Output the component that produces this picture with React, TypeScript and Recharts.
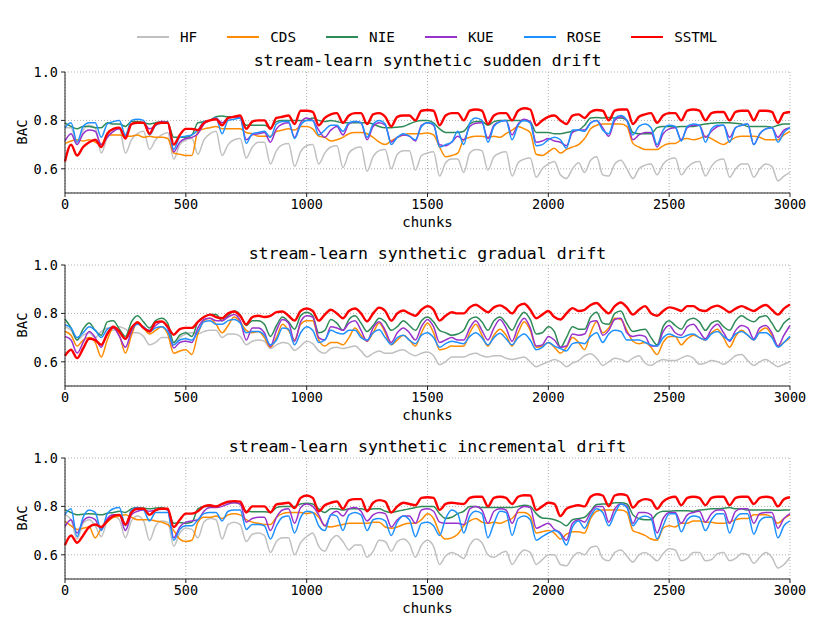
import { LineChart, Line, XAxis, YAxis, CartesianGrid } from 'recharts'

// chunks are sampled every 25 along 0..3000
const CHUNK_STEP = 25
const X_TICKS = [0, 500, 1000, 1500, 2000, 2500, 3000]
const Y_TICKS = [0.6, 0.8, 1.0]
const METHODS = ['HF', 'CDS', 'NIE', 'KUE', 'ROSE', 'SSTML']

const COLORS: Record<string, string> = {
  HF: '#c0c0c0',
  CDS: '#ff8c00',
  NIE: '#2e8b57',
  KUE: '#9932cc',
  ROSE: '#1e90ff',
  SSTML: '#ff0000',
}

// --- sudden drift ---
const SUDDEN_HF = [
  0.77, 0.77, 0.70, 0.76, 0.78, 0.77, 0.665, 0.73, 0.755, 0.765,
  0.665, 0.72, 0.745, 0.755, 0.68, 0.72, 0.74, 0.75, 0.64, 0.70,
  0.72, 0.725, 0.66, 0.72, 0.745, 0.755, 0.655, 0.70, 0.72, 0.725,
  0.645, 0.69, 0.71, 0.71, 0.62, 0.675, 0.70, 0.705, 0.61, 0.67,
  0.695,
  0.70, 0.62, 0.665, 0.69, 0.695, 0.605, 0.665, 0.685, 0.69, 0.59,
  0.65, 0.675, 0.68, 0.60, 0.66, 0.675, 0.675, 0.595, 0.655, 0.665,
  0.67, 0.57, 0.625, 0.64, 0.64, 0.585, 0.665, 0.68, 0.675, 0.595,
  0.65, 0.665, 0.67, 0.57, 0.625, 0.64, 0.645, 0.565, 0.60, 0.62,
  0.63, 0.575, 0.56, 0.60, 0.625, 0.585, 0.635, 0.65, 0.575, 0.57,
  0.62, 0.635, 0.60, 0.56, 0.60, 0.615, 0.62, 0.575, 0.62, 0.64,
  0.645, 0.575, 0.605, 0.625, 0.63, 0.57, 0.61, 0.635, 0.64, 0.565,
  0.60, 0.62, 0.62, 0.565, 0.60, 0.62, 0.61, 0.55, 0.57, 0.585,
]
const SUDDEN_CDS = [
  0.705, 0.715, 0.72, 0.715, 0.72, 0.71, 0.70, 0.74, 0.74, 0.74,
  0.735, 0.735, 0.74, 0.73, 0.735, 0.73, 0.73, 0.725, 0.665, 0.66,
  0.655, 0.655, 0.755, 0.765, 0.77, 0.775, 0.765, 0.765, 0.765, 0.765,
  0.75, 0.745, 0.735, 0.735, 0.735, 0.755, 0.76, 0.765, 0.76, 0.775,
  0.775,
  0.765, 0.735, 0.73, 0.715, 0.72, 0.73, 0.745, 0.75, 0.75, 0.745,
  0.73, 0.71, 0.70, 0.715, 0.73, 0.74, 0.745, 0.745, 0.745, 0.748,
  0.74, 0.69, 0.65, 0.655, 0.665, 0.72, 0.73, 0.735, 0.735, 0.73,
  0.735, 0.73, 0.745, 0.76, 0.775, 0.765, 0.75, 0.66, 0.655, 0.67,
  0.685, 0.665, 0.68, 0.69, 0.70, 0.725, 0.765, 0.78, 0.785, 0.785,
  0.785, 0.785, 0.775, 0.705, 0.69, 0.68, 0.68, 0.68, 0.695, 0.705,
  0.705, 0.72, 0.725, 0.72, 0.725, 0.735, 0.725, 0.71, 0.70, 0.715,
  0.73, 0.735, 0.735, 0.735, 0.73, 0.72, 0.72, 0.72, 0.74, 0.755,
]
const SUDDEN_NIE = [
  0.79, 0.775, 0.765, 0.775, 0.775, 0.77, 0.77, 0.79, 0.785, 0.785,
  0.775, 0.795, 0.795, 0.79, 0.785, 0.79, 0.795, 0.79, 0.73, 0.73,
  0.73, 0.74, 0.79, 0.795, 0.80, 0.815, 0.818, 0.815, 0.815, 0.81,
  0.78, 0.78, 0.78, 0.78, 0.77, 0.795, 0.80, 0.80, 0.80, 0.80,
  0.80,
  0.81, 0.80, 0.795, 0.80, 0.795, 0.79, 0.79, 0.79, 0.79, 0.79,
  0.785, 0.775, 0.77, 0.77, 0.772, 0.775, 0.785, 0.795, 0.80, 0.80,
  0.79, 0.765, 0.75, 0.75, 0.75, 0.755, 0.785, 0.795, 0.795, 0.78,
  0.795, 0.80, 0.80, 0.80, 0.80, 0.80, 0.795, 0.75, 0.75, 0.75,
  0.745, 0.745, 0.75, 0.755, 0.76, 0.78, 0.81, 0.812, 0.81, 0.812,
  0.81, 0.81, 0.80, 0.75, 0.745, 0.745, 0.745, 0.77, 0.775, 0.775,
  0.772, 0.775, 0.775, 0.775, 0.78, 0.785, 0.788, 0.79, 0.79, 0.79,
  0.788, 0.785, 0.775, 0.775, 0.775, 0.775, 0.772, 0.78, 0.785, 0.785,
]
const SUDDEN_KUE = [
  0.715, 0.745, 0.70, 0.745, 0.76, 0.755, 0.70, 0.73, 0.755, 0.765,
  0.735, 0.785, 0.79, 0.79, 0.765, 0.78, 0.795, 0.79, 0.67, 0.71,
  0.725, 0.73, 0.745, 0.785, 0.80, 0.81, 0.79, 0.81, 0.815, 0.81,
  0.72, 0.74, 0.745, 0.75, 0.71, 0.765, 0.785, 0.79, 0.73, 0.79,
  0.81,
  0.80, 0.76, 0.73, 0.76, 0.775, 0.74, 0.785, 0.795, 0.79, 0.72,
  0.775, 0.79, 0.78, 0.71, 0.73, 0.74, 0.735, 0.715, 0.78, 0.79,
  0.78, 0.70, 0.695, 0.71, 0.735, 0.72, 0.775, 0.788, 0.79, 0.725,
  0.78, 0.795, 0.80, 0.74, 0.785, 0.805, 0.795, 0.71, 0.715, 0.725,
  0.715, 0.71, 0.695, 0.75, 0.76, 0.76, 0.79, 0.80, 0.77, 0.735,
  0.80, 0.815, 0.80, 0.72, 0.74, 0.75, 0.75, 0.69, 0.745, 0.765,
  0.77, 0.72, 0.77, 0.78, 0.78, 0.73, 0.755, 0.775, 0.78, 0.73,
  0.77, 0.78, 0.785, 0.70, 0.745, 0.765, 0.77, 0.73, 0.76, 0.77,
]
const SUDDEN_ROSE = [
  0.77, 0.79, 0.71, 0.775, 0.79, 0.79, 0.73, 0.785, 0.795, 0.80,
  0.74, 0.80, 0.805, 0.80, 0.74, 0.78, 0.79, 0.795, 0.68, 0.73,
  0.735, 0.74, 0.76, 0.795, 0.80, 0.81, 0.745, 0.80, 0.805, 0.81,
  0.705, 0.745, 0.75, 0.755, 0.73, 0.785, 0.795, 0.795, 0.725, 0.78,
  0.80,
  0.80, 0.74, 0.76, 0.78, 0.78, 0.755, 0.79, 0.795, 0.79, 0.73,
  0.785, 0.80, 0.785, 0.70, 0.73, 0.745, 0.735, 0.72, 0.775, 0.79,
  0.785, 0.69, 0.70, 0.71, 0.755, 0.70, 0.79, 0.81, 0.80, 0.71,
  0.775, 0.795, 0.80, 0.72, 0.78, 0.80, 0.79, 0.695, 0.70, 0.72,
  0.73, 0.72, 0.685, 0.76, 0.76, 0.755, 0.79, 0.80, 0.76, 0.745,
  0.81, 0.82, 0.80, 0.74, 0.775, 0.785, 0.77, 0.70, 0.76, 0.78,
  0.775, 0.715, 0.775, 0.785, 0.78, 0.71, 0.765, 0.78, 0.78, 0.71,
  0.77, 0.78, 0.785, 0.70, 0.745, 0.765, 0.77, 0.71, 0.75, 0.77,
]
const SUDDEN_SSTML = [
  0.63, 0.70, 0.655, 0.69, 0.71, 0.72, 0.69, 0.745, 0.765, 0.77,
  0.725, 0.785, 0.79, 0.79, 0.745, 0.785, 0.79, 0.79, 0.70, 0.74,
  0.765, 0.765, 0.76, 0.79, 0.80, 0.805, 0.78, 0.81, 0.815, 0.82,
  0.765, 0.795, 0.80, 0.80, 0.765, 0.81, 0.815, 0.82, 0.785, 0.84,
  0.84,
  0.835, 0.78, 0.81, 0.825, 0.83, 0.79, 0.82, 0.83, 0.83, 0.785,
  0.825, 0.83, 0.815, 0.775, 0.815, 0.82, 0.82, 0.80, 0.84, 0.843,
  0.84, 0.78, 0.82, 0.83, 0.83, 0.80, 0.84, 0.845, 0.84, 0.785,
  0.82, 0.83, 0.83, 0.80, 0.84, 0.85, 0.845, 0.78, 0.80, 0.815,
  0.82, 0.80, 0.785, 0.82, 0.825, 0.81, 0.835, 0.843, 0.84, 0.80,
  0.84, 0.845, 0.845, 0.785, 0.815, 0.825, 0.83, 0.79, 0.82, 0.83,
  0.83, 0.80, 0.84, 0.845, 0.84, 0.80, 0.83, 0.835, 0.835, 0.80,
  0.835, 0.84, 0.84, 0.80, 0.84, 0.84, 0.835, 0.79, 0.83, 0.835,
]

// --- gradual drift ---
const GRADUAL_HF = [
  0.745, 0.73, 0.69, 0.71, 0.72, 0.70, 0.725, 0.74, 0.73, 0.745,
  0.735, 0.72, 0.72, 0.705, 0.67, 0.68, 0.70, 0.70, 0.67, 0.70,
  0.715, 0.72, 0.715, 0.725, 0.73, 0.73, 0.70, 0.715, 0.715, 0.705,
  0.67, 0.685, 0.69, 0.685, 0.655, 0.67, 0.68, 0.675, 0.647, 0.665,
  0.685,
  0.675, 0.645, 0.635, 0.655, 0.66, 0.655, 0.66, 0.665, 0.645, 0.62,
  0.635, 0.645, 0.635, 0.635, 0.645, 0.65, 0.635, 0.625, 0.635, 0.64,
  0.625, 0.588, 0.60, 0.62, 0.62, 0.62, 0.63, 0.635, 0.625, 0.62,
  0.625, 0.625, 0.615, 0.61, 0.615, 0.62, 0.60, 0.58, 0.59, 0.60,
  0.61, 0.60, 0.58, 0.595, 0.605, 0.625, 0.633, 0.615, 0.585, 0.60,
  0.615, 0.61, 0.60, 0.615, 0.625, 0.595, 0.585, 0.60, 0.61, 0.605,
  0.605, 0.615, 0.625, 0.615, 0.59, 0.595, 0.605, 0.60, 0.59, 0.605,
  0.625, 0.63, 0.605, 0.585, 0.60, 0.61, 0.595, 0.58, 0.59, 0.60,
]
const GRADUAL_CDS = [
  0.725, 0.71, 0.665, 0.69, 0.70, 0.68, 0.62, 0.69, 0.74, 0.71,
  0.636, 0.71, 0.765, 0.74, 0.715, 0.73, 0.745, 0.715, 0.635, 0.645,
  0.65, 0.63, 0.715, 0.77, 0.78, 0.755, 0.72, 0.75, 0.785, 0.765,
  0.73, 0.72, 0.725, 0.70, 0.66, 0.70, 0.755, 0.73, 0.69, 0.755,
  0.77,
  0.77, 0.69, 0.665, 0.68, 0.68, 0.67, 0.70, 0.74, 0.71, 0.685,
  0.72, 0.76, 0.72, 0.67, 0.69, 0.71, 0.69, 0.665, 0.72, 0.76,
  0.72, 0.65, 0.655, 0.665, 0.664, 0.665, 0.72, 0.755, 0.71, 0.665,
  0.71, 0.735, 0.71, 0.665, 0.72, 0.765, 0.73, 0.66, 0.665, 0.68,
  0.66, 0.636, 0.66, 0.70, 0.68, 0.65, 0.72, 0.765, 0.72, 0.74,
  0.78, 0.775, 0.73, 0.685, 0.675, 0.68, 0.66, 0.63, 0.68, 0.705,
  0.705, 0.67, 0.695, 0.71, 0.70, 0.69, 0.72, 0.735, 0.70, 0.66,
  0.705, 0.73, 0.71, 0.69, 0.725, 0.74, 0.71, 0.665, 0.68, 0.70,
]
const GRADUAL_NIE = [
  0.777, 0.74, 0.69, 0.735, 0.76, 0.73, 0.71, 0.765, 0.77, 0.735,
  0.705, 0.765, 0.79, 0.765, 0.74, 0.77, 0.78, 0.76, 0.68, 0.71,
  0.72, 0.705, 0.765, 0.785, 0.795, 0.795, 0.77, 0.79, 0.81, 0.795,
  0.75, 0.77, 0.77, 0.755, 0.705, 0.75, 0.785, 0.765, 0.735, 0.79,
  0.805,
  0.79, 0.72, 0.73, 0.775, 0.76, 0.73, 0.775, 0.79, 0.76, 0.725,
  0.75, 0.78, 0.765, 0.73, 0.745, 0.77, 0.75, 0.73, 0.77, 0.785,
  0.765, 0.73, 0.72, 0.71, 0.715, 0.73, 0.775, 0.785, 0.765, 0.73,
  0.77, 0.785, 0.76, 0.73, 0.775, 0.805, 0.775, 0.715, 0.72, 0.745,
  0.725, 0.66, 0.70, 0.745, 0.735, 0.735, 0.785, 0.805, 0.76, 0.755,
  0.80, 0.81, 0.76, 0.725, 0.73, 0.735, 0.70, 0.67, 0.745, 0.77,
  0.75, 0.735, 0.77, 0.78, 0.765, 0.73, 0.76, 0.77, 0.745, 0.73,
  0.77, 0.79, 0.775, 0.765, 0.785, 0.79, 0.76, 0.725, 0.76, 0.78,
]
const GRADUAL_KUE = [
  0.705, 0.69, 0.636, 0.68, 0.725, 0.70, 0.66, 0.72, 0.74, 0.705,
  0.66, 0.725, 0.76, 0.74, 0.73, 0.75, 0.765, 0.74, 0.657, 0.68,
  0.685, 0.68, 0.74, 0.775, 0.78, 0.77, 0.77, 0.785, 0.795, 0.77,
  0.69, 0.74, 0.74, 0.72, 0.663, 0.73, 0.775, 0.76, 0.684, 0.765,
  0.79,
  0.785, 0.70, 0.69, 0.745, 0.74, 0.73, 0.76, 0.77, 0.73, 0.685,
  0.74, 0.765, 0.73, 0.68, 0.72, 0.74, 0.72, 0.69, 0.745, 0.775,
  0.745, 0.68, 0.69, 0.70, 0.69, 0.69, 0.74, 0.77, 0.73, 0.69,
  0.74, 0.775, 0.74, 0.685, 0.745, 0.78, 0.74, 0.665, 0.67, 0.705,
  0.69, 0.66, 0.665, 0.715, 0.71, 0.715, 0.765, 0.77, 0.71, 0.73,
  0.775, 0.78, 0.72, 0.705, 0.71, 0.705, 0.665, 0.665, 0.725, 0.75,
  0.72, 0.71, 0.745, 0.755, 0.725, 0.695, 0.735, 0.755, 0.72, 0.685,
  0.73, 0.75, 0.74, 0.695, 0.74, 0.75, 0.72, 0.665, 0.71, 0.75,
]
const GRADUAL_ROSE = [
  0.753, 0.74, 0.70, 0.72, 0.745, 0.73, 0.70, 0.735, 0.745, 0.725,
  0.694, 0.735, 0.755, 0.745, 0.725, 0.74, 0.745, 0.725, 0.67, 0.69,
  0.695, 0.69, 0.725, 0.765, 0.77, 0.755, 0.755, 0.77, 0.775, 0.76,
  0.72, 0.725, 0.725, 0.71, 0.67, 0.69, 0.74, 0.735, 0.67, 0.72,
  0.745,
  0.73, 0.68, 0.69, 0.73, 0.72, 0.715, 0.73, 0.73, 0.70, 0.69,
  0.72, 0.732, 0.70, 0.672, 0.70, 0.71, 0.69, 0.675, 0.71, 0.72,
  0.70, 0.66, 0.675, 0.685, 0.68, 0.675, 0.705, 0.72, 0.70, 0.67,
  0.70, 0.718, 0.695, 0.67, 0.70, 0.715, 0.69, 0.65, 0.66, 0.68,
  0.665, 0.655, 0.645, 0.675, 0.68, 0.675, 0.705, 0.72, 0.68, 0.715,
  0.73, 0.725, 0.69, 0.69, 0.69, 0.68, 0.67, 0.665, 0.70, 0.715,
  0.705, 0.70, 0.71, 0.715, 0.70, 0.69, 0.715, 0.725, 0.705, 0.69,
  0.715, 0.725, 0.71, 0.69, 0.72, 0.72, 0.70, 0.66, 0.68, 0.705,
]
const GRADUAL_SSTML = [
  0.625, 0.65, 0.615, 0.655, 0.695, 0.69, 0.67, 0.715, 0.745, 0.725,
  0.695, 0.74, 0.763, 0.74, 0.725, 0.763, 0.767, 0.745, 0.712, 0.735,
  0.74, 0.74, 0.765, 0.785, 0.795, 0.785, 0.78, 0.80, 0.808, 0.79,
  0.755, 0.785, 0.79, 0.785, 0.79, 0.805, 0.808, 0.79, 0.77, 0.81,
  0.82,
  0.81, 0.77, 0.795, 0.815, 0.80, 0.78, 0.81, 0.82, 0.80, 0.767,
  0.80, 0.824, 0.81, 0.77, 0.80, 0.812, 0.80, 0.79, 0.815, 0.83,
  0.815, 0.77, 0.79, 0.805, 0.80, 0.80, 0.825, 0.836, 0.82, 0.805,
  0.825, 0.833, 0.82, 0.80, 0.83, 0.84, 0.815, 0.78, 0.795, 0.81,
  0.785, 0.775, 0.80, 0.822, 0.81, 0.815, 0.835, 0.843, 0.82, 0.80,
  0.83, 0.845, 0.825, 0.795, 0.815, 0.83, 0.80, 0.79, 0.81, 0.825,
  0.82, 0.81, 0.83, 0.83, 0.815, 0.81, 0.825, 0.832, 0.82, 0.805,
  0.82, 0.83, 0.82, 0.81, 0.825, 0.835, 0.815, 0.795, 0.82, 0.837,
]

// --- incremental drift ---
const INCR_HF = [
  0.766, 0.745, 0.665, 0.73, 0.745, 0.72, 0.675, 0.74, 0.76, 0.745,
  0.67, 0.74, 0.76, 0.74, 0.66, 0.72, 0.74, 0.735, 0.635, 0.69,
  0.71, 0.705, 0.67, 0.735, 0.75, 0.745, 0.665, 0.725, 0.735, 0.725,
  0.655, 0.685, 0.69, 0.68, 0.61, 0.655, 0.67, 0.67, 0.60, 0.65,
  0.675,
  0.69, 0.635, 0.615, 0.66, 0.68, 0.655, 0.62, 0.64, 0.64, 0.59,
  0.615, 0.66, 0.655, 0.615, 0.655, 0.665, 0.645, 0.59, 0.64, 0.66,
  0.635, 0.56, 0.595, 0.61, 0.60, 0.585, 0.64, 0.665, 0.65, 0.60,
  0.59, 0.605, 0.615, 0.56, 0.595, 0.62, 0.61, 0.56, 0.58, 0.60,
  0.60, 0.56, 0.555, 0.59, 0.61, 0.60, 0.63, 0.635, 0.585, 0.575,
  0.61, 0.62, 0.595, 0.57, 0.60, 0.61, 0.595, 0.575, 0.605, 0.625,
  0.62, 0.575, 0.585, 0.61, 0.61, 0.575, 0.58, 0.605, 0.61, 0.575,
  0.585, 0.605, 0.60, 0.565, 0.59, 0.61, 0.59, 0.545, 0.56, 0.59,
]
const INCR_CDS = [
  0.738, 0.72, 0.705, 0.71, 0.715, 0.67, 0.71, 0.735, 0.755, 0.76,
  0.765, 0.755, 0.745, 0.745, 0.745, 0.74, 0.735, 0.725, 0.70, 0.665,
  0.655, 0.66, 0.735, 0.755, 0.755, 0.76, 0.75, 0.765, 0.77, 0.765,
  0.745, 0.735, 0.73, 0.725, 0.725, 0.755, 0.77, 0.775, 0.775, 0.775,
  0.77,
  0.775, 0.755, 0.72, 0.715, 0.72, 0.725, 0.73, 0.73, 0.73, 0.73,
  0.735, 0.735, 0.715, 0.71, 0.715, 0.725, 0.73, 0.73, 0.745, 0.77,
  0.75, 0.69, 0.665, 0.67, 0.685, 0.72, 0.74, 0.75, 0.735, 0.73,
  0.735, 0.73, 0.74, 0.75, 0.775, 0.775, 0.76, 0.69, 0.695, 0.70,
  0.69, 0.665, 0.685, 0.695, 0.695, 0.69, 0.75, 0.78, 0.785, 0.785,
  0.785, 0.785, 0.775, 0.70, 0.69, 0.68, 0.665, 0.66, 0.71, 0.72,
  0.715, 0.73, 0.73, 0.74, 0.74, 0.735, 0.735, 0.73, 0.73, 0.735,
  0.745, 0.75, 0.75, 0.765, 0.765, 0.765, 0.755, 0.73, 0.75, 0.765,
]
const INCR_NIE = [
  0.786, 0.775, 0.765, 0.768, 0.77, 0.768, 0.765, 0.772, 0.775, 0.78,
  0.775, 0.79, 0.795, 0.793, 0.79, 0.793, 0.795, 0.785, 0.73, 0.733,
  0.73, 0.735, 0.79, 0.80, 0.80, 0.80, 0.81, 0.816, 0.816, 0.81,
  0.78, 0.778, 0.778, 0.778, 0.775, 0.795, 0.80, 0.80, 0.80, 0.81,
  0.813,
  0.81, 0.79, 0.775, 0.79, 0.79, 0.785, 0.79, 0.79, 0.79, 0.785,
  0.79, 0.79, 0.78, 0.775, 0.78, 0.785, 0.79, 0.795, 0.80, 0.80,
  0.80, 0.77, 0.75, 0.755, 0.77, 0.78, 0.80, 0.80, 0.795, 0.795,
  0.795, 0.795, 0.795, 0.795, 0.80, 0.805, 0.80, 0.77, 0.752, 0.75,
  0.745, 0.735, 0.72, 0.745, 0.75, 0.755, 0.78, 0.808, 0.81, 0.81,
  0.815, 0.815, 0.81, 0.765, 0.75, 0.745, 0.745, 0.77, 0.78, 0.78,
  0.782, 0.782, 0.782, 0.78, 0.785, 0.787, 0.79, 0.79, 0.792, 0.795,
  0.79, 0.79, 0.785, 0.785, 0.785, 0.785, 0.785, 0.784, 0.785, 0.785,
]
const INCR_KUE = [
  0.717, 0.745, 0.69, 0.74, 0.755, 0.745, 0.705, 0.75, 0.765, 0.765,
  0.70, 0.765, 0.78, 0.785, 0.78, 0.785, 0.79, 0.785, 0.67, 0.715,
  0.735, 0.74, 0.745, 0.78, 0.795, 0.795, 0.80, 0.81, 0.815, 0.81,
  0.735, 0.75, 0.755, 0.755, 0.70, 0.755, 0.785, 0.79, 0.73, 0.795,
  0.81,
  0.80, 0.765, 0.72, 0.765, 0.78, 0.76, 0.79, 0.795, 0.78, 0.74,
  0.765, 0.775, 0.77, 0.715, 0.745, 0.76, 0.76, 0.73, 0.785, 0.79,
  0.78, 0.735, 0.73, 0.73, 0.73, 0.725, 0.79, 0.80, 0.785, 0.73,
  0.78, 0.79, 0.785, 0.73, 0.785, 0.80, 0.795, 0.71, 0.72, 0.73,
  0.705, 0.69, 0.66, 0.73, 0.745, 0.735, 0.775, 0.80, 0.80, 0.735,
  0.79, 0.81, 0.80, 0.73, 0.775, 0.775, 0.765, 0.69, 0.75, 0.775,
  0.775, 0.73, 0.765, 0.775, 0.78, 0.735, 0.77, 0.785, 0.785, 0.73,
  0.78, 0.79, 0.79, 0.73, 0.77, 0.775, 0.775, 0.71, 0.75, 0.77,
]
const INCR_ROSE = [
  0.766, 0.79, 0.675, 0.755, 0.785, 0.775, 0.70, 0.77, 0.79, 0.795,
  0.72, 0.785, 0.795, 0.785, 0.74, 0.775, 0.775, 0.775, 0.66, 0.705,
  0.72, 0.72, 0.745, 0.77, 0.775, 0.775, 0.74, 0.78, 0.785, 0.785,
  0.705, 0.725, 0.725, 0.72, 0.665, 0.72, 0.755, 0.76, 0.69, 0.755,
  0.78,
  0.775, 0.72, 0.70, 0.765, 0.76, 0.70, 0.765, 0.775, 0.765, 0.70,
  0.745, 0.75, 0.74, 0.68, 0.735, 0.76, 0.745, 0.675, 0.73, 0.735,
  0.72, 0.68, 0.75, 0.785, 0.77, 0.69, 0.76, 0.78, 0.77, 0.67,
  0.73, 0.78, 0.775, 0.68, 0.75, 0.76, 0.745, 0.66, 0.675, 0.69,
  0.70, 0.685, 0.64, 0.715, 0.74, 0.71, 0.76, 0.79, 0.775, 0.72,
  0.77, 0.81, 0.795, 0.72, 0.75, 0.76, 0.75, 0.665, 0.72, 0.77,
  0.77, 0.695, 0.745, 0.76, 0.755, 0.70, 0.745, 0.77, 0.77, 0.69,
  0.75, 0.77, 0.77, 0.685, 0.74, 0.755, 0.755, 0.67, 0.72, 0.74,
]
const INCR_SSTML = [
  0.64, 0.68, 0.65, 0.68, 0.715, 0.725, 0.715, 0.74, 0.76, 0.765,
  0.725, 0.775, 0.79, 0.79, 0.765, 0.785, 0.79, 0.79, 0.715, 0.745,
  0.77, 0.77, 0.78, 0.80, 0.805, 0.80, 0.81, 0.82, 0.822, 0.82,
  0.775, 0.80, 0.80, 0.80, 0.775, 0.808, 0.812, 0.815, 0.793, 0.835,
  0.845,
  0.835, 0.78, 0.805, 0.815, 0.82, 0.79, 0.825, 0.83, 0.83, 0.78,
  0.815, 0.826, 0.82, 0.775, 0.80, 0.815, 0.81, 0.805, 0.835, 0.838,
  0.835, 0.785, 0.81, 0.815, 0.812, 0.81, 0.835, 0.84, 0.84, 0.80,
  0.835, 0.84, 0.835, 0.81, 0.84, 0.846, 0.845, 0.785, 0.80, 0.815,
  0.81, 0.76, 0.79, 0.80, 0.805, 0.80, 0.84, 0.85, 0.845, 0.80,
  0.845, 0.85, 0.845, 0.795, 0.82, 0.83, 0.825, 0.79, 0.82, 0.835,
  0.84, 0.805, 0.835, 0.84, 0.835, 0.805, 0.835, 0.84, 0.84, 0.805,
  0.835, 0.84, 0.84, 0.81, 0.835, 0.84, 0.835, 0.80, 0.83, 0.838,
]

const PANELS = [
  {
    title: 'stream-learn synthetic sudden drift',
    series: [SUDDEN_HF, SUDDEN_CDS, SUDDEN_NIE, SUDDEN_KUE, SUDDEN_ROSE, SUDDEN_SSTML],
  },
  {
    title: 'stream-learn synthetic gradual drift',
    series: [GRADUAL_HF, GRADUAL_CDS, GRADUAL_NIE, GRADUAL_KUE, GRADUAL_ROSE, GRADUAL_SSTML],
  },
  {
    title: 'stream-learn synthetic incremental drift',
    series: [INCR_HF, INCR_CDS, INCR_NIE, INCR_KUE, INCR_ROSE, INCR_SSTML],
  },
]

const FONT = '"DejaVu Sans Mono", monospace'
const TICK = { fill: '#000', fontSize: 13.5, fontFamily: FONT }

function toRows(series: number[][]) {
  return series[0].map((_, i) => {
    const row: Record<string, number> = { chunk: i * CHUNK_STEP }
    METHODS.forEach((m, k) => {
      row[m] = series[k][i]
    })
    return row
  })
}

function Panel({ title, series, top }: { title: string; series: number[][]; top: number }) {
  const rows = toRows(series)
  return (
    <>
      <div
        style={{
          position: 'absolute', left: 65, width: 725, top: top - 21, lineHeight: '20px',
          textAlign: 'center', fontSize: 16.5, fontFamily: FONT, color: '#000',
        }}
      >
        {title}
      </div>
      <div
        style={{
          position: 'absolute', left: 12, top: top + 50, width: 20, height: 20,
          display: 'flex', alignItems: 'center', justifyContent: 'center',
        }}
      >
        <span style={{ transform: 'rotate(-90deg)', fontSize: 14, fontFamily: FONT, whiteSpace: 'nowrap' }}>
          BAC
        </span>
      </div>
      <div
        style={{
          position: 'absolute', left: 65, width: 725, top: top + 140, lineHeight: '20px',
          textAlign: 'center', fontSize: 14, fontFamily: FONT,
        }}
      >
        chunks
      </div>
      <div style={{ position: 'absolute', left: 0, top: top - 12 }}>
        <LineChart width={822} height={157} data={rows} margin={{ top: 12, right: 32, bottom: 0, left: 0 }}>
          <CartesianGrid stroke="#b0b0b0" strokeDasharray="1 2" />
          <XAxis
            type="number"
            dataKey="chunk"
            domain={[0, 3000]}
            ticks={X_TICKS}
            interval={0}
            height={24}
            tickSize={4}
            tickMargin={2}
            tick={TICK}
            stroke="#222"
          />
          <YAxis
            domain={[0.5, 1.0]}
            ticks={Y_TICKS}
            interval={0}
            allowDataOverflow
            width={65}
            tickSize={4}
            tickMargin={3}
            tick={TICK}
            tickFormatter={(v: number) => v.toFixed(1)}
            stroke="#222"
          />
          {METHODS.map((m) => (
            <Line
              key={m}
              type="monotone"
              dataKey={m}
              stroke={COLORS[m]}
              strokeWidth={m === 'SSTML' ? 2.4 : 1.5}
              dot={false}
              isAnimationActive={false}
            />
          ))}
        </LineChart>
      </div>
    </>
  )
}

function Legend() {
  return (
    <div
      style={{
        position: 'absolute', left: 137, top: 27, height: 20, display: 'flex',
        alignItems: 'center', gap: 30, fontFamily: FONT, fontSize: 14.3,
      }}
    >
      {METHODS.map((m) => (
        <div key={m} style={{ display: 'flex', alignItems: 'center', gap: 11 }}>
          <div style={{ width: 32, height: m === 'SSTML' ? 2.4 : 1.5, background: COLORS[m] }} />
          <span>{m}</span>
        </div>
      ))}
    </div>
  )
}

export default function App() {
  return (
    <div style={{ position: 'absolute', left: 0, top: 0, width: 822, height: 632, background: '#fff' }}>
      <Legend />
      {PANELS.map((p, i) => (
        <Panel key={p.title} title={p.title} series={p.series} top={72 + 193 * i} />
      ))}
    </div>
  )
}
